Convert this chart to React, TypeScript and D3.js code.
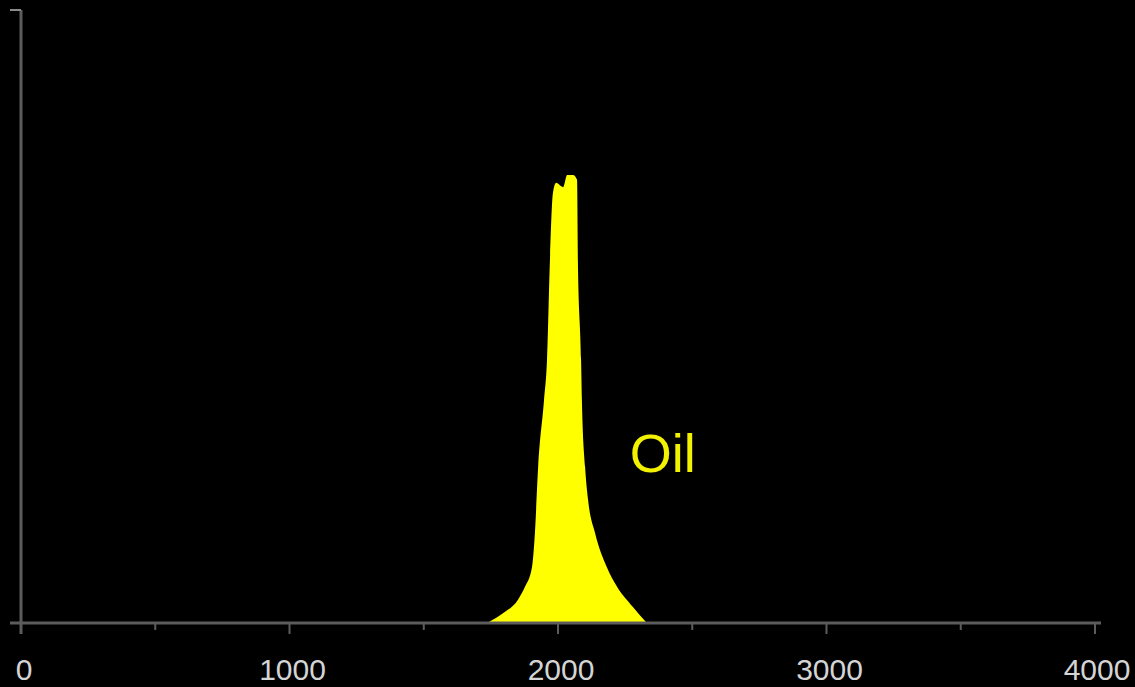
import React from 'react'
import * as d3 from 'd3'

// peak outline (x = time, y = signal, 0..100)
const peakX = [1736, 1795, 1851, 1877, 1903, 1914, 1926, 1948, 1959, 1970, 1981, 1993, 2019, 2034, 2056, 2071, 2074, 2086, 2089, 2101, 2112, 2138, 2182, 2220, 2279, 2331]
const peakY = [0, 1.6, 3.8, 5.9, 9.1, 14.7, 25.4, 36.4, 42.9, 59.2, 70.1, 71.8, 71.1, 73.1, 73.1, 72.3, 59.2, 42.9, 36.4, 25.4, 20.1, 14.7, 9.1, 5.9, 2.6, 0]
const majorTicks = [0, 1000, 2000, 3000, 4000]
const minorTicks = [500, 1500, 2500, 3500]
const seriesLabel = 'Oil'

const w = 1135
const h = 687

export default function App() {
  const x = d3.scaleLinear().domain([0, 4000]).range([21, 1095])
  const y = d3.scaleLinear().domain([0, 100]).range([623, 10])

  const points: [number, number][] = peakX.map((v, i) => [v, peakY[i]])
  const area = d3
    .area<[number, number]>()
    .x(d => x(d[0]))
    .y0(y(0))
    .y1(d => y(d[1]))
    .curve(d3.curveMonotoneX)

  const axisColor = '#5c5c5c'

  return (
    <svg
      width={w}
      height={h}
      style={{ position: 'absolute', left: 0, top: 0, display: 'block', background: '#000' }}
    >
      <rect width={w} height={h} fill="#000" />
      {/* peak */}
      <path d={area(points) || ''} fill="#ffff00" />

      {/* y axis */}
      <line x1={x(0)} x2={x(0)} y1={y(100)} y2={634} stroke={axisColor} strokeWidth={3} />
      <line x1={10} x2={x(0)} y1={y(100)} y2={y(100)} stroke="#8a8a8a" strokeWidth={2} />

      {/* x axis */}
      <line x1={10} x2={1101} y1={y(0)} y2={y(0)} stroke={axisColor} strokeWidth={3} />
      {majorTicks.map(t => (
        <line key={'M' + t} x1={x(t)} x2={x(t)} y1={y(0)} y2={634} stroke={axisColor} strokeWidth={2} />
      ))}
      {minorTicks.map(t => (
        <line key={'m' + t} x1={x(t)} x2={x(t)} y1={y(0)} y2={630} stroke={axisColor} strokeWidth={2} />
      ))}
      {majorTicks.map(t => (
        <text
          key={'t' + t}
          x={Math.min(x(t) + 3, 1097)}
          y={680}
          textAnchor="middle"
          fill="#d4d4d4"
          fontFamily="Liberation Sans, Arial, sans-serif"
          fontSize={30}
        >
          {t}
        </text>
      ))}

      <text
        x={x(2267)}
        y={472}
        fill="#f2f200"
        fontFamily="Liberation Sans, Arial, sans-serif"
        fontSize={54}
      >
        {seriesLabel}
      </text>
    </svg>
  )
}
